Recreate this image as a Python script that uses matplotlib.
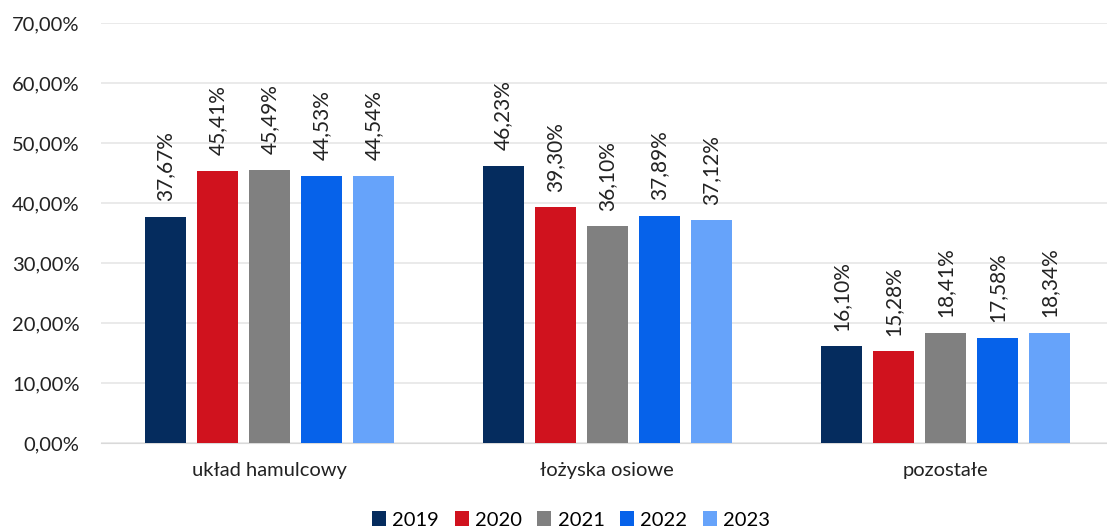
import numpy as np
import matplotlib
matplotlib.use("Agg")
import matplotlib.pyplot as plt

plt.rcParams['font.family'] = ['Lato', 'DejaVu Sans']

categories = ['układ hamulcowy', 'łożyska osiowe', 'pozostałe']
years = ['2019', '2020', '2021', '2022', '2023']
values = {
    '2019': [37.67, 46.23, 16.10],
    '2020': [45.41, 39.30, 15.28],
    '2021': [45.49, 36.10, 18.41],
    '2022': [44.53, 37.89, 17.58],
    '2023': [44.54, 37.12, 18.34],
}
colors = ['#052C5E', '#D0121E', '#808080', '#0662EA', '#66A3FA']
yticks = [0, 10, 20, 30, 40, 50, 60, 70]


def fmt(v):
    return f"{v:.2f}".replace('.', ',') + '%'


fig = plt.figure(figsize=(11.07, 5.29), dpi=100)
ax = fig.add_axes([0.0908, 0.1626, 0.9092, 0.7939])

x = np.arange(len(categories))
step = 0.154
width = 0.121
for i, (yr, col) in enumerate(zip(years, colors)):
    pos = x + (i - 2) * step
    bars = ax.bar(pos, values[yr], width, color=col, label=yr, zorder=3)
    for b, v in zip(bars, values[yr]):
        ax.text(b.get_x() + b.get_width() / 2, v + 2.6, fmt(v), rotation=90,
                ha='center', va='bottom', fontsize=15, color='#222222')

ax.set_xlim(-0.5, 2.479)
ax.set_ylim(0, 70)
ax.set_yticks(yticks)
ax.set_yticklabels([fmt(t) for t in yticks], fontsize=14.5, color='#222222')
ax.set_xticks(x)
ax.set_xticklabels(categories, fontsize=14.5, color='#222222')
ax.tick_params(axis='both', length=0)
ax.tick_params(axis='x', pad=14)
ax.tick_params(axis='y', pad=15)
ax.grid(axis='y', color='#E6E6E6', linewidth=1.2, zorder=0)
for s in ['top', 'right', 'left']:
    ax.spines[s].set_visible(False)
ax.spines['bottom'].set_color('#D9D9D9')

leg = fig.legend(loc='center', bbox_to_anchor=(571 / 1107, 9 / 529), ncol=5,
                 frameon=False, fontsize=14.5, handlelength=0.7, handleheight=0.7,
                 handletextpad=0.3, columnspacing=0.78, borderaxespad=0,
                 borderpad=0)

fig.savefig('out.png', dpi=100)
